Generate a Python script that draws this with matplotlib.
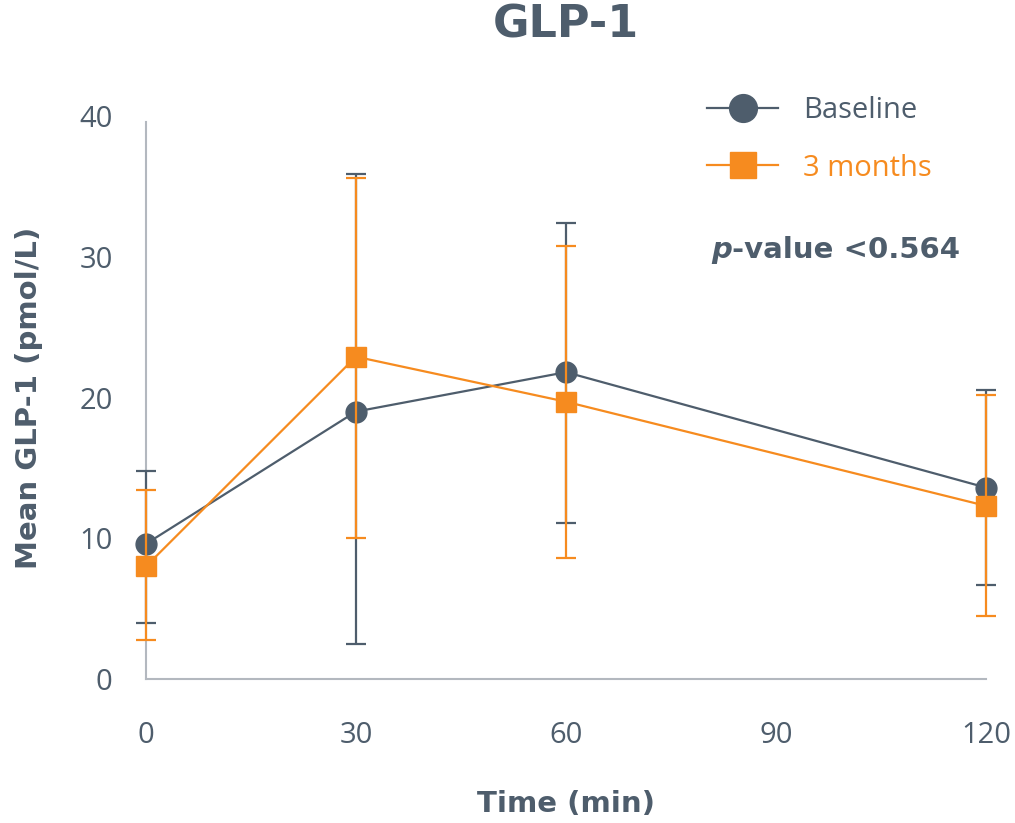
import numpy as np
import matplotlib
matplotlib.use("Agg")
import matplotlib.pyplot as plt
from matplotlib.lines import Line2D

# data
time_min = [0, 30, 60, 120]
baseline_mean = [9.6, 19.0, 21.8, 13.6]
baseline_low = [4.0, 2.5, 11.1, 6.7]
baseline_high = [14.8, 35.9, 32.4, 20.5]
months3_mean = [8.0, 22.9, 19.7, 12.3]
months3_low = [2.8, 10.0, 8.6, 4.5]
months3_high = [13.4, 35.6, 30.8, 20.2]
x_ticks = [0, 30, 60, 90, 120]
y_ticks = [0, 10, 20, 30, 40]

SLATE = '#4e5d6c'
ORANGE = '#f68b1f'
AXIS = '#b3b8bf'
TICKFONT = ['Open Sans', 'DejaVu Sans']

plt.rcParams['font.family'] = ['DejaVu Sans']

fig = plt.figure(figsize=(10.15, 8.23), dpi=100)
ax = fig.add_axes([0.1438, 0.175, 0.8276, 0.684])


def yerr(mean, low, high):
    m = np.array(mean)
    return [m - np.array(low), np.array(high) - m]


ax.errorbar(time_min, baseline_mean, yerr=yerr(baseline_mean, baseline_low, baseline_high),
            color=SLATE, marker='o', markersize=15, linewidth=1.6, elinewidth=1.6,
            capsize=7, capthick=1.6, zorder=3)
ax.errorbar(time_min, months3_mean, yerr=yerr(months3_mean, months3_low, months3_high),
            color=ORANGE, marker='s', markersize=14.5, linewidth=1.6, elinewidth=1.6,
            capsize=7, capthick=1.6, zorder=4)

ax.set_xlim(0, 120)
ax.set_ylim(0, 40)
ax.set_xticks(x_ticks)
ax.set_yticks(y_ticks)
ax.tick_params(length=0, labelsize=21, labelcolor=SLATE)
ax.tick_params(axis='x', pad=30)
ax.tick_params(axis='y', pad=24)
for lab in ax.get_xticklabels() + ax.get_yticklabels():
    lab.set_family(TICKFONT)
for s in ['top', 'right']:
    ax.spines[s].set_visible(False)
for s in ['left', 'bottom']:
    ax.spines[s].set_color(AXIS)
    ax.spines[s].set_linewidth(1.5)
ax.spines['left'].set_bounds(0, 39.6)

ax.set_xlabel('Time (min)', fontsize=21, fontweight='bold', color=SLATE)
ax.xaxis.set_label_coords(0.5, -0.198)
ax.set_ylabel('Mean GLP-1 (pmol/L)', fontsize=21, fontweight='bold', color=SLATE)
ax.yaxis.set_label_coords(-0.122, 0.5)
ax.text(0.5, 1.0 + (116 - 25) / 563, 'GLP-1', transform=ax.transAxes, fontsize=32,
        fontweight='bold', color=SLATE, ha='center', va='center')

handles = [
    Line2D([], [], color=SLATE, marker='o', markersize=20, linewidth=1.6),
    Line2D([], [], color=ORANGE, marker='s', markersize=19, linewidth=1.6),
]
ax.legend(handles, ['Baseline', '3 months'], loc='upper left', bbox_to_anchor=(0.668, 1.036),
          frameon=False, borderpad=0, borderaxespad=0, handlelength=2.43,
          handletextpad=0.86, labelspacing=0.99, labelcolor='linecolor',
          prop={'family': TICKFONT, 'size': 21})

p_txt = ax.text(0.673, 0.762, 'p', transform=ax.transAxes, fontsize=21, color=SLATE,
                fontweight='bold', fontstyle='italic', ha='left', va='center')
ax.annotate('-value <0.564', xy=(1, 0.5), xycoords=p_txt, fontsize=21, color=SLATE,
            fontweight='bold', ha='left', va='center')

for line in ax.lines:
    line.set_clip_on(False)
for coll in ax.collections:
    coll.set_clip_on(False)

fig.savefig('out.png', dpi=100)
